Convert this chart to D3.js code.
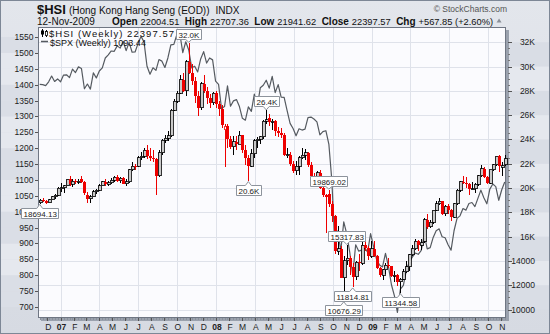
<!DOCTYPE html>
<html>
<head>
<meta charset="utf-8">
<script src="https://cdn.jsdelivr.net/npm/d3@7/dist/d3.min.js"></script>
<style>
  html, body { margin: 0; padding: 0; background: #fff; }
  svg { display: block; }
  text { font-family: "Liberation Sans", Arial, sans-serif; }
</style>
</head>
<body>
<svg id="chart" width="550" height="334"></svg>
<script>
// ---- Weekly bars: Monday of the first and of the last week ----
const firstWeek = new Date(2006, 10, 13);
const lastWeek  = new Date(2009, 10, 9);

// $HSI weekly open / high / low / close
const hsiOpen = [
  18800,19000,18950,18800,19050,19280,19400,19965,20030,20200,
  20700,20300,20550,20500,20700,20500,19400,19100,19300,19700,
  19800,20200,20500,20300,20450,20650,20900,20600,20800,20350,
  20500,21500,21800,21770,22500,22600,23100,22600,22500,22400,
  21000,22900,23950,24100,24300,26400,27140,27800,28900,28000,
  30400,29500,28800,27600,26600,28600,28000,27400,27000,27800,
  26900,26500,24800,25100,24000,23400,23800,23600,24330,23100,
  22500,21800,22800,23900,24000,24200,25500,25800,25400,25500,
  24700,24530,24400,22700,22750,22000,21400,21800,22500,22700,
  22900,21900,21000,20400,21260,20000,19400,19500,18700,17700,
  14800,15000,12620,14000,14200,13500,12700,13900,13800,15300,
  15100,14400,15000,14400,13400,12800,13280,13650,13550,12750,
  12800,12300,12500,13100,13500,14500,15000,15600,15300,15600,
  17400,16800,17200,18170,18700,18900,17900,18500,18200,17600,
  18700,19800,20500,20400,20350,19900,19950,20300,21000,21600,
  20900,20400,21500,21900,22600,21700,21900
];
const hsiHigh = [
  19080,19180,19000,19100,19320,19500,20050,20400,20250,20780,
  20950,20700,20750,20700,20970,20600,19700,19400,19800,19900,
  20300,20600,20750,20600,20800,20950,21100,20900,20900,20700,
  21600,22100,22000,22600,23000,23300,23500,23300,23100,22500,
  23100,24000,24400,24700,26500,27300,28000,29300,29500,30500,
  31958,30200,29100,28000,28700,29300,28300,27700,27900,28000,
  27200,26800,25300,25300,24300,24300,24300,24700,24400,23500,
  22700,23200,24000,24200,24300,25600,26387,26100,25700,25600,
  25000,24900,24500,23300,23000,22200,22200,22600,23300,23200,
  23000,22100,21200,21400,21500,20600,19500,19869.02,18900,17800,
  16900,15200,14400,15317.83,14400,13800,14000,14600,15700,15900,
  15200,15600,15600,14500,13500,13300,13800,14200,13600,13200,
  12900,12600,13300,14000,14600,15300,15800,15700,15800,17500,
  17900,17400,18200,18900,19160,18950,18600,18700,18300,18800,
  19900,20600,21000,20900,20400,20500,20400,21100,21900,21700,
  21000,21500,22000,22600,22700,22100,22707.36
];
const hsiLow = [
  18694.13,18850,18720,18760,19000,19100,19380,19700,19600,20150,
  20150,20050,20350,20350,20400,19400,18750,18800,19250,19500,
  19750,20150,20200,20200,20300,20500,20500,20450,20300,20200,
  20450,21400,21500,21700,22300,22500,22400,22200,22100,19386,
  20900,22700,23700,23900,24200,26300,27000,27700,27900,27600,
  29400,28500,27000,25900,26400,27800,26900,26600,26800,26600,
  25900,24900,21709,23300,23200,22700,23100,23600,22900,21900,
  20572,21700,22500,23300,23600,24000,25300,25100,24800,24300,
  24200,24100,22600,22500,21800,21200,21100,21100,22400,22300,
  21700,20800,20300,20300,19900,19300,16283,18400,17200,14600,
  14500,12600,10676.29,13700,12800,11814.81,12400,13200,13700,14800,
  14100,14200,14300,13300,12700,12400,12900,13400,12700,12300,
  11900,11344.58,12400,13000,13200,14400,14900,14800,14900,15500,
  16600,16700,17000,18100,18600,17800,17700,17900,17300,17500,
  18600,19700,20300,20000,19400,19800,19600,20200,20900,20800,
  20300,20300,21400,21800,21300,21000,21800
];
const hsiClose = [
  19000,18950,18800,19050,19280,19400,19965,20030,20200,20700,
  20300,20550,20500,20570,20500,19600,19100,19300,19700,19800,
  20200,20500,20300,20450,20650,20900,20600,20800,20350,20500,
  21500,21800,21770,22500,22600,23100,22600,22500,22400,21000,
  22900,23950,24100,24300,26400,27140,27800,28900,28000,30400,
  29500,28800,27600,26600,28600,28000,27400,27000,27800,26900,
  26500,25200,25100,24000,23400,23800,23600,24330,23100,22500,
  21800,22800,23900,24000,24200,25500,25600,25400,25500,24700,
  24530,24400,22700,22750,22000,21400,21800,22500,22700,22900,
  21900,21000,20400,21260,20000,19400,19300,18700,17700,14800,
  15000,12620,14000,14200,13500,12700,13900,13800,15300,15100,
  14400,15000,14400,13400,12800,13280,13650,13550,12750,12800,
  12300,12500,13100,13500,14500,15000,15600,15300,15500,17400,
  16800,17200,18170,18700,18900,17900,18500,18200,17600,18700,
  19800,20500,20400,20350,19900,19950,20300,21000,21600,20900,
  20400,21500,21900,22600,21800,21830,22397.57
];
// $SPX weekly close
const spxClose = [
  1401,1400,1397,1409,1427,1410,1418,1409,1430,1431,
  1422,1449,1438,1456,1451,1387,1402,1386,1437,1421,
  1443,1453,1484,1494,1506,1505,1522,1515,1536,1507,
  1533,1502,1503,1530,1552,1534,1458,1433,1453,1445,
  1479,1474,1454,1484,1525,1527,1557,1561,1501,1535,
  1509,1453,1458,1440,1481,1504,1468,1484,1478,1411,
  1401,1325,1331,1396,1332,1349,1353,1331,1294,1288,
  1330,1316,1370,1332,1390,1398,1414,1389,1426,1375,
  1400,1361,1360,1318,1278,1262,1239,1261,1257,1260,
  1296,1298,1292,1283,1242,1252,1255,1213,1099,899,
  940,877,968,930,873,800,896,876,879,887,
  873,931,890,850,832,826,869,827,770,735,
  683,756,768,816,843,857,870,866,878,929,
  883,887,919,940,946,921,918,896,879,940,
  979,987,1010,1005,1026,1029,1016,1042,1068,1044,
  1025,1071,1087,1079,1036,1069,1093.44
];

// Price flags: bar number, which extreme, printed short (K) or in full
const noteBar   = [0, 50, 70, 76, 97, 103, 102, 105, 121];
const noteSide  = ["low", "high", "low", "high", "high", "high", "low", "low", "low"];
const noteShort = [false, true, true, true, false, false, false, false, false];

// Axis ticks and labels
const spxTicks = [700,750,800,850,900,950,1000,1050,1100,1150,1200,1250,1300,1350,1400,1450,1500,1550];
const hsiTicks = [10000,12000,14000,16000,18000,20000,22000,24000,26000,28000,30000,32000];
const hsiTickLabels = ["10000","12000","14000","16K","18K","20K","22K","24K","26K","28K","30K","32K"];
const monthLabels = ["D","07","F","M","A","M","J","J","A","S","O","N",
                     "D","08","F","M","A","M","J","J","A","S","O","N",
                     "D","09","F","M","A","M","J","J","A","S","O","N"];

// Header
const titleSymbol = "$HSI";
const titleName = "(Hong Kong Hang Seng (EOD))";
const titleExchange = "INDX";
const quoteDate = "12-Nov-2009";
const quoteNames  = ["Open", "High", "Low", "Close", "Chg"];
const quoteValues = ["22004.51", "22707.36", "21941.62", "22397.57", "+567.85 (+2.60%)"];

// ---- layout ----
const W = 550, H = 334;
const P = { left: 38, right: 506, top: 27, bottom: 318 };
const weeks = d3.timeMonday.range(firstWeek, d3.timeDay.offset(lastWeek, 1));

const x = d3.scaleTime()
  .domain([new Date(2006, 10, 9), new Date(2009, 10, 12)])
  .range([P.left, P.right]);
const ySpx = d3.scaleLinear().domain([700, 1550]).range([307, 37]);
const yHsi = d3.scaleLinear().domain([10000, 32000]).range([309.5, 42.2]);

const svg = d3.select("#chart");
const defs = svg.append("defs");
const grad = defs.append("linearGradient").attr("id", "bg")
  .attr("x1", 0).attr("y1", 0).attr("x2", 0).attr("y2", 1);
grad.append("stop").attr("offset", "0%").attr("stop-color", "#e3e6ec");
grad.append("stop").attr("offset", "100%").attr("stop-color", "#d6dae2");

svg.append("rect").attr("width", W).attr("height", H).attr("fill", "url(#bg)");

// banded shading behind the axis labels
const bandPairs = d3.pairs(spxTicks);
svg.append("g").selectAll("rect").data(bandPairs).join("rect")
  .attr("x", 1).attr("width", P.left - 1)
  .attr("y", d => ySpx(d[1])).attr("height", d => ySpx(d[0]) - ySpx(d[1]))
  .attr("fill", (d, i) => (Math.floor(i / 2) % 2) ? "#e5e8ee" : "#dadee6");
const hsiPairs = d3.pairs(hsiTicks);
svg.append("g").selectAll("rect").data(hsiPairs).join("rect")
  .attr("x", P.right + 3).attr("width", W - P.right - 4)
  .attr("y", d => yHsi(d[1])).attr("height", d => yHsi(d[0]) - yHsi(d[1]))
  .attr("fill", (d, i) => (i % 2) ? "#e5e8ee" : "#d9dde5");

// plot frame with drop shadow
svg.append("rect")
  .attr("x", P.left + 3).attr("y", P.top + 3)
  .attr("width", P.right - P.left).attr("height", P.bottom - P.top)
  .attr("fill", "#9aa1ad");
svg.append("rect")
  .attr("x", P.left).attr("y", P.top)
  .attr("width", P.right - P.left).attr("height", P.bottom - P.top)
  .attr("fill", "#fbfbfe");

// grid
const grid = svg.append("g").attr("shape-rendering", "crispEdges");
grid.selectAll("line.h").data(hsiTicks).join("line")
  .attr("x1", P.left).attr("x2", P.right)
  .attr("y1", d => Math.round(yHsi(d)) + 0.5).attr("y2", d => Math.round(yHsi(d)) + 0.5)
  .attr("stroke", "#dfe2ea");
const quarters = d3.timeMonth.every(3).range(new Date(2007, 0, 1), new Date(2009, 10, 12));
grid.selectAll("line.v").data(quarters).join("line")
  .attr("y1", P.top).attr("y2", P.bottom)
  .attr("x1", d => Math.round(x(d)) + 0.5).attr("x2", d => Math.round(x(d)) + 0.5)
  .attr("stroke", "#dfe2ea");

// plot border
svg.append("rect")
  .attr("x", P.left + 0.5).attr("y", P.top + 0.5)
  .attr("width", P.right - P.left - 1).attr("height", P.bottom - P.top - 1)
  .attr("fill", "none").attr("stroke", "#6f7683");

// ---- $SPX line ----
const bars = weeks.map((d, i) => ({
  date: d, o: hsiOpen[i], h: hsiHigh[i], l: hsiLow[i], c: hsiClose[i], spx: spxClose[i],
  prev: i > 0 ? hsiClose[i - 1] : hsiOpen[i]
}));

svg.append("path")
  .datum(bars)
  .attr("fill", "none")
  .attr("stroke", "#555a60")
  .attr("stroke-width", 1.2)
  .attr("stroke-linejoin", "round")
  .attr("d", d3.line().x(d => x(d.date)).y(d => ySpx(d.spx)));

// ---- $HSI candles: black = up on the week, red = down; hollow when close > open ----
const candles = svg.append("g").attr("shape-rendering", "crispEdges");
const cg = candles.selectAll("g").data(bars).join("g");
const colorOf = d => d.c >= d.prev ? "#000000" : "#ee0000";
cg.append("line")
  .attr("x1", d => Math.round(x(d.date)) + 0.5).attr("x2", d => Math.round(x(d.date)) + 0.5)
  .attr("y1", d => yHsi(d.h)).attr("y2", d => yHsi(d.l))
  .attr("stroke", colorOf);
cg.append("rect")
  .attr("x", d => Math.round(x(d.date)) - 1)
  .attr("width", 3)
  .attr("y", d => yHsi(Math.max(d.o, d.c)))
  .attr("height", d => Math.max(1, Math.abs(yHsi(d.o) - yHsi(d.c))))
  .attr("fill", d => d.c > d.o ? (d.c >= d.prev ? "#c9c9c9" : "#ffffff") : colorOf(d))
  .attr("stroke", d => d.c > d.o ? colorOf(d) : "none")
  .attr("stroke-width", 0.8);

// ---- axes ----
const axes = svg.append("g").attr("shape-rendering", "crispEdges");
// left ($SPX)
axes.selectAll("line.l").data(spxTicks).join("line")
  .attr("x1", P.left - 3).attr("x2", P.left)
  .attr("y1", d => Math.round(ySpx(d)) + 0.5).attr("y2", d => Math.round(ySpx(d)) + 0.5)
  .attr("stroke", "#555");
svg.append("g").selectAll("text").data(spxTicks).join("text")
  .attr("x", 33.5).attr("y", d => ySpx(d) + 3)
  .attr("text-anchor", "end").attr("font-size", 8.5).attr("fill", "#222")
  .text(d => d);
// right ($HSI)
const hsiMinor = d3.range(10000, 32001, 500);
axes.selectAll("line.rm").data(hsiMinor).join("line")
  .attr("x1", P.right + 2).attr("x2", P.right + 4)
  .attr("y1", d => Math.round(yHsi(d)) + 0.5).attr("y2", d => Math.round(yHsi(d)) + 0.5)
  .attr("stroke", "#777");
axes.selectAll("line.r").data(hsiTicks).join("line")
  .attr("x1", P.right + 2).attr("x2", P.right + 6)
  .attr("y1", d => Math.round(yHsi(d)) + 0.5).attr("y2", d => Math.round(yHsi(d)) + 0.5)
  .attr("stroke", "#555");
svg.append("g").selectAll("text").data(hsiTicks).join("text")
  .attr("x", 535).attr("y", d => yHsi(d) + 3)
  .attr("text-anchor", "end").attr("font-size", 8.5).attr("fill", "#222")
  .text((d, i) => hsiTickLabels[i]);
// bottom (dates)
axes.selectAll("line.w").data(weeks).join("line")
  .attr("x1", d => Math.round(x(d)) + 0.5).attr("x2", d => Math.round(x(d)) + 0.5)
  .attr("y1", P.bottom).attr("y2", P.bottom + 2)
  .attr("stroke", "#8a909a");
const months = d3.timeMonth.range(new Date(2006, 11, 1), new Date(2009, 10, 2));
axes.selectAll("line.m").data(months).join("line")
  .attr("x1", d => Math.round(x(d)) + 0.5).attr("x2", d => Math.round(x(d)) + 0.5)
  .attr("y1", P.bottom).attr("y2", P.bottom + 3)
  .attr("stroke", "#555");
svg.append("g").selectAll("text").data(months).join("text")
  .attr("x", d => x(d) + 1).attr("y", 330)
  .attr("text-anchor", "middle")
  .attr("font-size", 8.5)
  .attr("font-weight", (d, i) => /\d/.test(monthLabels[i]) ? "bold" : "normal")
  .attr("fill", "#222")
  .text((d, i) => monthLabels[i]);

// ---- price flags (drawn over the axis labels) ----
const flags = svg.append("g");
noteBar.forEach((bi, i) => {
  const b = bars[bi];
  const v = noteSide[i] === "high" ? b.h : b.l;
  const label = noteShort[i] ? (v / 1000).toFixed(1) + "K" : v.toFixed(2);
  const px = x(b.date), py = yHsi(v);
  const g = flags.append("g");
  const t = g.append("text").text(label).attr("font-size", 8).attr("fill", "#222");
  const tw = t.node().getComputedTextLength();
  const bw = Math.round(tw + 4), bh = 10;
  const bx = Math.round(px - bw / 2) + 0.5;
  const up = noteSide[i] === "high";
  const by = Math.round(up ? py - 4 - bh : py + 4) + 0.5;
  const edge = up ? by + bh : by;
  const path = up
    ? `M${bx},${by}H${bx + bw}V${edge}H${px + 3}L${px},${py - 0.5}L${px - 3},${edge}H${bx}Z`
    : `M${bx},${by + bh}H${bx + bw}V${edge}H${px + 3}L${px},${py + 0.5}L${px - 3},${edge}H${bx}Z`;
  g.insert("path", "text").attr("d", path).attr("fill", "#ffffff").attr("stroke", "#8d939c");
  t.attr("x", bx + 2).attr("y", by + 8);
});

// ---- legend ----
const leg = svg.append("g");
// mini candle glyph
leg.append("line").attr("x1", 42.5).attr("x2", 42.5).attr("y1", 29).attr("y2", 37).attr("stroke", "#000");
leg.append("rect").attr("x", 41).attr("y", 30.5).attr("width", 3).attr("height", 4).attr("fill", "#000");
leg.append("line").attr("x1", 46.5).attr("x2", 46.5).attr("y1", 30).attr("y2", 37).attr("stroke", "#000");
leg.append("rect").attr("x", 45.5).attr("y", 31.5).attr("width", 2).attr("height", 4).attr("fill", "#fff").attr("stroke", "#000").attr("stroke-width", 0.8);
leg.append("text").attr("x", 49).attr("y", 37)
  .attr("font-size", 9.5).attr("fill", "#111")
  .attr("textLength", 125).attr("lengthAdjust", "spacing")
  .text(`${titleSymbol} (Weekly) ${d3.format(".2f")(hsiClose[hsiClose.length - 1])}`);
leg.append("line").attr("x1", 41).attr("x2", 48).attr("y1", 41.5).attr("y2", 41.5)
  .attr("stroke", "#555a60").attr("stroke-width", 1.5);
leg.append("text").attr("x", 50).attr("y", 45.5)
  .attr("font-size", 9).attr("fill", "#111")
  .text(`$SPX (Weekly) ${d3.format(".2f")(spxClose[spxClose.length - 1])}`);

// ---- header ----
const head = svg.append("g").attr("fill", "#111");
const t1 = head.append("text").attr("x", 37).attr("y", 14);
t1.append("tspan").attr("font-weight", "bold").attr("font-size", 13).text(titleSymbol);
t1.append("tspan").attr("font-size", 10).attr("dx", 3).text(titleName);
t1.append("tspan").attr("font-size", 10).attr("dx", 6).text(titleExchange);
head.append("text").attr("x", 37).attr("y", 24.5).attr("font-size", 10).text(quoteDate);
// quote line laid out left to right from measured widths
let qx = 112;
quoteNames.forEach((n, i) => {
  const nt = head.append("text").attr("x", qx).attr("y", 24.5)
    .attr("font-size", 10).attr("font-weight", "bold").text(n);
  qx += nt.node().getComputedTextLength() + 3;
  const vt = head.append("text").attr("x", qx).attr("y", 24.5)
    .attr("font-size", 9.3).text(quoteValues[i]);
  qx += vt.node().getComputedTextLength() + 5.5;
});
head.append("path").attr("d", `M${qx - 2},22.5L${qx + 3},22.5L${qx + 0.5},18.5Z`).attr("fill", "#8a8f98");
head.append("text").attr("x", 507).attr("y", 12).attr("text-anchor", "end")
  .attr("font-size", 8.5).attr("fill", "#555").text("\u00a9 StockCharts.com");

// outer border
svg.append("rect").attr("x", 0.5).attr("y", 0.5).attr("width", W - 1).attr("height", H - 1)
  .attr("fill", "none").attr("stroke", "#7d8796");
</script>
</body>
</html>
